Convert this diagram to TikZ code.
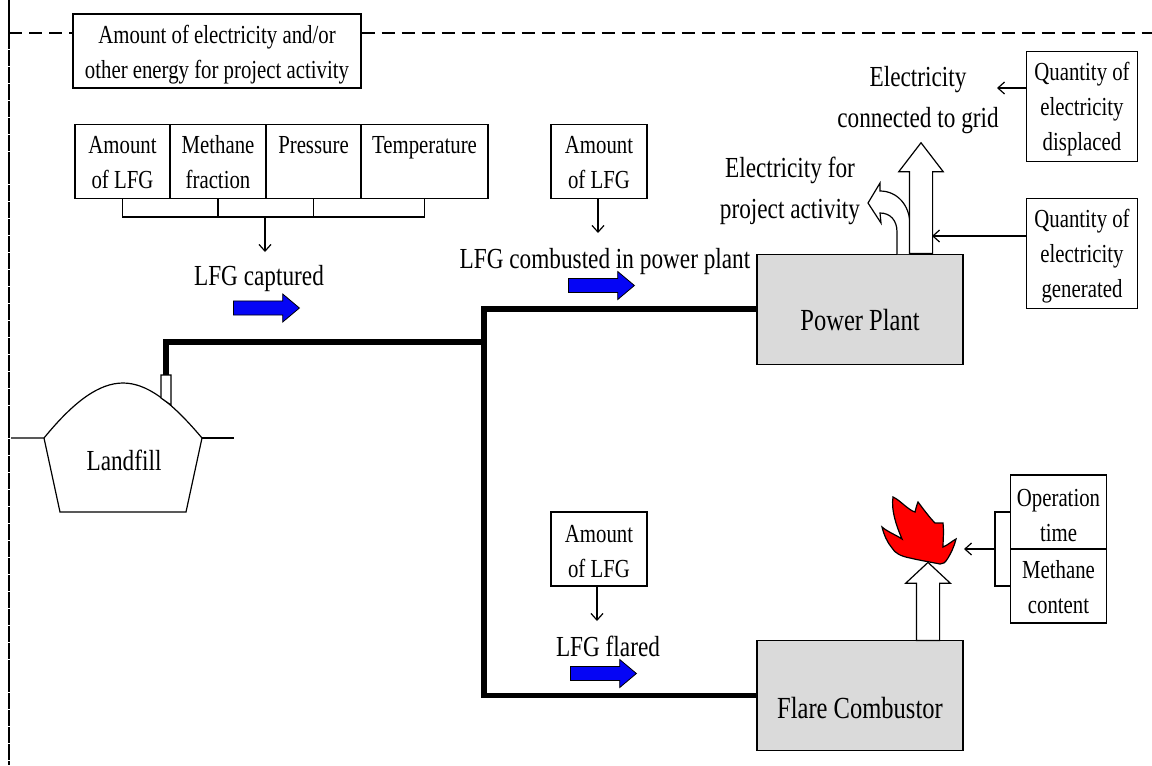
\documentclass[tikz,border=0pt]{standalone}
\usepackage{fontspec}
\setmainfont[FakeStretch=0.8]{Liberation Serif}
\usetikzlibrary{arrows.meta, shapes.arrows}
\definecolor{plantgray}{HTML}{DADADA}
\definecolor{flowblue}{HTML}{0505F5}
\definecolor{flamered}{HTML}{FF0000}
\tikzset{
	small/.style={font=\fontsize{19.5}{26.25}\selectfont, align=center},
	big/.style={font=\fontsize{21.8}{31}\selectfont, align=center},
	cell/.style={small, draw, line width=0.9pt, inner sep=0pt, text height=41pt, text depth=0pt},
	unit/.style={font=\fontsize{23}{30}\selectfont, align=center, text height=32pt, draw, line width=0.9pt, fill=plantgray, minimum width=154.5pt, inner sep=0pt},
	flow/.style={single arrow, anchor=tail, draw=black, line width=0.6pt, fill=flowblue, inner xsep=0pt, inner ysep=5pt, minimum height=49.5pt, single arrow head extend=5.2pt, single arrow tip angle=80, single arrow head indent=0pt},
	stack/.style={single arrow, anchor=tail, draw, line width=0.9pt, fill=white, inner ysep=0pt, inner xsep=8.25pt, single arrow head extend=8pt, shape border rotate=90},
	pipe/.style={line width=4.2pt},
	thin/.style={line width=0.9pt},
	tipped/.style={thin, -{Straight Barb[length=5pt,width=9pt]}},
}
\begin{document}
\begin{tikzpicture}[x=0.75pt, y=-0.75pt]
	\useasboundingbox (0,0) rectangle (1152,765);
	% boundary
	\node[cell, minimum width=216pt, minimum height=55.5pt] (energy) at (217,51) {Amount of electricity and/or\\other energy for project activity};
	\coordinate (cornerT) at (9,0);
	\coordinate (corner) at (9,33);
	\coordinate (cornerB) at (9,765);
	\coordinate (edgeR) at (1152,33);
	\draw[line width=2.2pt] (cornerT) -- (corner);
	\draw[line width=2.2pt, dash pattern=on 12pt off 0.7pt] (corner) -- (cornerB);
	\draw[thin, dash pattern=on 10pt off 5pt] (corner) -- (energy.west |- corner);
	\draw[thin, dash pattern=on 10pt off 5pt] (energy.east |- corner) -- (edgeR);

	% capture measurements
	\node[cell, minimum width=71.25pt, minimum height=55pt] (amount) at (122.5,161.5) {Amount\\of LFG};
	\node[cell, minimum width=72pt, minimum height=55pt] (fraction) at (218,161.5) {Methane\\fraction};
	\node[cell, minimum width=71.25pt, minimum height=55pt] (pressure) at (313.5,161.5) {Pressure\\~};
	\node[cell, minimum width=95.25pt, minimum height=55pt] (temperature) at (424.5,161.5) {Temperature\\~};
	\coordinate (bus) at (265,217);
	\coordinate (busend) at (265,252);
	\draw[thin] (amount.south) -- (amount.south |- bus) -- (temperature.south |- bus) -- (temperature.south);
	\draw[thin] (fraction.south) -- (fraction.south |- bus);
	\draw[thin] (pressure.south) -- (pressure.south |- bus);
	\draw[tipped] (bus) -- (busend);
	\node[big] (captured) at (259,279) {LFG captured};
	\node[flow] (flowA) at (233,308) {};

	% landfill
	\node[big] (landfill) at (124,460) {Landfill};
	\coordinate (fillL) at (44,438);
	\coordinate (fillR) at (202,438);
	\coordinate (groundL) at (11,438);
	\coordinate (groundR) at (234,438);
	\draw[thin] (groundL) -- (fillL) .. controls (75,400) and (100,383) .. (123,383) .. controls (146,383) and (170,400) .. (fillR) -- (186,512) -- (60,512) -- (fillL);
	\draw[thin] (fillR) -- (groundR);
	\draw[thin, fill=white] (161,375) -- (161,398) -- (171,405) -- (171,375) -- cycle;

	% units and pipes
	\node[unit, minimum height=83pt] (plant) at (860,309.5) {Power Plant};
	\node[unit, minimum height=82pt, text height=35pt] (flare) at (860,695.5) {Flare Combustor};
	\coordinate (well) at (166,375);
	\coordinate (elbow) at (166,342);
	\coordinate (tee) at (484,342);
	\coordinate (branch) at (484,309);
	\coordinate (foot) at (484,695.5);
	\draw[pipe] (well) -- (elbow) -- (tee);
	\draw[pipe] (plant.west |- branch) -- (branch) -- (foot) -- (flare.west |- foot);

	% power plant branch
	\node[cell, minimum width=72pt, minimum height=56pt] (amountP) at (599,161.5) {Amount\\of LFG};
	\coordinate (amountPend) at (598,233);
	\draw[tipped] (amountPend |- amountP.south) -- (amountPend);
	\node[big] (combusted) at (605,262) {LFG combusted in power plant};
	\node[flow] (flowB) at (568,285.5) {};
	\draw[thin, fill=white] (897,254) -- (897,232) .. controls (897,220) and (890,213) .. (880,213) -- (881,223) -- (868,203) -- (880,183) -- (880,191) .. controls (897,191) and (910,205) .. (910,225) -- (910,254);
	\node[stack, minimum height=83pt, single arrow tip angle=75] (grid) at (921,254) {};
	\node[big] (selfuse) at (790,191) {Electricity for\\project activity};
	\node[big] (gridtext) at (918,100) {Electricity\\connected to grid};
	\node[cell, minimum width=83pt, minimum height=83pt, text height=66pt] (displaced) at (1082,106.5) {Quantity of\\electricity\\displaced};
	\node[cell, minimum width=83pt, minimum height=83pt, text height=66pt] (generated) at (1082,253.5) {Quantity of\\electricity\\generated};
	\coordinate (displacedend) at (997,88);
	\coordinate (generatedend) at (932,236);
	\draw[tipped] (displaced.west |- displacedend) -- (displacedend);
	\draw[tipped] (generated.west |- generatedend) -- (generatedend);

	% flare branch
	\node[cell, minimum width=72pt, minimum height=55.5pt, text height=42.5pt] (amountF) at (599,549) {Amount\\of LFG};
	\coordinate (amountFend) at (597,621);
	\draw[tipped] (amountFend |- amountF.south) -- (amountFend);
	\node[big] (flared) at (608,646) {LFG flared};
	\node[flow] (flowC) at (570,673.5) {};
	\node[stack, minimum height=58.5pt, single arrow tip angle=94] (flareup) at (928,641) {};
	\draw[thin, fill=flamered] (882,527) .. controls (888,532) and (896,535) .. (902,539) .. controls (896,525) and (891,510) .. (893,497) .. controls (900,500) and (908,510) .. (915,512) .. controls (916,508) and (917,504) .. (918,502) .. controls (924,510) and (930,518) .. (935,523) -- (943,523) .. controls (944,532) and (943,540) .. (943,547) .. controls (948,545) and (952,541) .. (956,539) .. controls (954,547) and (951,553) .. (948,558) .. controls (945,563) and (943,564) .. (940,564) .. controls (930,562) and (918,560) .. (910,558) .. controls (900,556) and (895,553) .. (892,548) .. controls (887,542) and (884,535) .. (882,527) -- cycle;
	\node[cell, minimum width=71.5pt, minimum height=55.5pt, text height=44pt] (optime) at (1058.5,512) {Operation\\time};
	\node[cell, minimum width=71.5pt, minimum height=55.5pt] (content) at (1058.5,586) {Methane\\content};
	\coordinate (flarebus) at (995,549);
	\coordinate (flareend) at (964,549);
	\draw[thin] (optime.west) -- (optime.west -| flarebus) -- (content.west -| flarebus) -- (content.west);
	\draw[tipped] (flarebus) -- (flareend);
\end{tikzpicture}
\end{document}
